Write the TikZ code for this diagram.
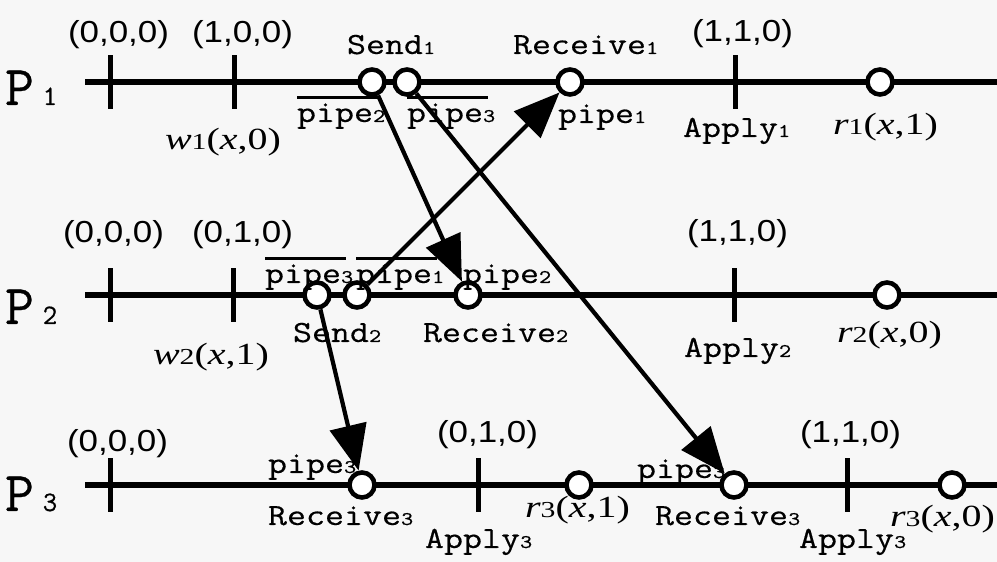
\documentclass[tikz,border=0pt]{standalone}
\usepackage{fontspec}
\usepackage{tikz}
\usetikzlibrary{arrows.meta,positioning}
\newfontfamily\monofont[FakeStretch=1.2,FakeBold=0.4]{Latin Modern Mono}
\newfontfamily\procfont[FakeBold=0.5]{Latin Modern Mono}
\newfontfamily\tuplefont[FakeStretch=1.15]{Liberation Sans}
\newfontfamily\valfont[FakeStretch=1.3]{Liberation Serif}
\newcommand{\ix}[1]{{\fontsize{11}{11}\selectfont #1}}
\newcommand{\vix}[1]{{\fontsize{13}{13}\selectfont\upshape #1}}
\newcommand{\pix}[1]{\hspace{5pt}{\fontsize{16}{16}\selectfont #1}}

\begin{document}
\begin{tikzpicture}[
    font=\monofont\fontsize{17.5}{19}\selectfont,
    lbl/.style={anchor=base west, inner sep=0pt, outer sep=0pt},
    tuple/.style={lbl, font=\tuplefont\fontsize{17.3}{18}\selectfont},
    val/.style={lbl, font=\valfont\fontsize{17.5}{20}\selectfont},
    proc/.style={lbl, font=\procfont\fontsize{32}{32}\selectfont},
    event/.style={circle, draw, line width=2.6pt, fill=white, minimum size=5mm, inner sep=0pt},
    tick/.style={fill=black, minimum width=1mm, minimum height=10.7mm, inner sep=0pt},
    timeline/.style={line width=3.2pt},
    bar/.style={line width=1.7pt},
    arrow/.style={-{Triangle[length=26pt,width=21pt]}, line width=2.4pt}
]
\useasboundingbox[fill=black!3] (0,0) rectangle (19.94,11.24);

% time lines
\coordinate (p1s) at (1.7,9.6);  \coordinate (p1e) at (19.94,9.6);
\coordinate (p2s) at (1.7,5.34); \coordinate (p2e) at (19.94,5.34);
\coordinate (p3s) at (1.7,1.54); \coordinate (p3e) at (19.94,1.54);
\draw[timeline] (p1s) -- (p1e);
\draw[timeline] (p2s) -- (p2e);
\draw[timeline] (p3s) -- (p3e);

\node[proc] (proc1) at (0.1,9.14) {P\pix{1}};
\node[proc] (proc2) at (0.1,4.76) {P\pix{2}};
\node[proc] (proc3) at (0.1,1.02) {P\pix{3}};

% ticks
\node[tick] (k1a) at (2.2,9.6) {};
\node[tick] (k1b) at (4.68,9.6) {};
\node[tick] (k1c) at (14.7,9.6) {};
\node[tick] (k2a) at (2.2,5.34) {};
\node[tick] (k2b) at (4.66,5.34) {};
\node[tick] (k2c) at (14.68,5.34) {};
\node[tick] (k3a) at (2.2,1.54) {};
\node[tick] (k3b) at (9.56,1.54) {};
\node[tick] (k3c) at (16.94,1.54) {};

% events
\node[event] (send1a) at (7.44,9.6) {};
\node[event] (send1b) at (8.14,9.6) {};
\node[event] (recv1) at (11.4,9.6) {};
\node[event] (read1) at (17.6,9.6) {};
\node[event] (send2a) at (6.34,5.34) {};
\node[event] (send2b) at (7.14,5.34) {};
\node[event] (recv2) at (9.36,5.34) {};
\node[event] (read2) at (17.74,5.34) {};
\node[event] (recv3a) at (7.24,1.54) {};
\node[event] (read3a) at (11.58,1.54) {};
\node[event] (recv3b) at (14.68,1.54) {};
\node[event] (read3b) at (19.04,1.54) {};

% messages
\draw[arrow] (send1a) -- (recv2);
\draw[arrow] (send1b) -- (recv3b);
\draw[arrow] (send2b) -- (recv1);
\draw[arrow] (send2a) -- (recv3a);

% P1 labels
\node[tuple] (vc1a) at (1.36,10.38) {(0,0,0)};
\node[tuple] (vc1b) at (3.84,10.38) {(1,0,0)};
\node[tuple] (vc1c) at (13.84,10.4) {(1,1,0)};
\node[lbl] (lsend1) at (6.94,10.16) {Send\ix{1}};
\node[lbl] (lrecv1) at (10.26,10.16) {Receive\ix{1}};
\node[lbl] (bar12) at (5.94,8.8) {pipe\ix{2}};
\node[lbl] (bar13) at (8.14,8.8) {pipe\ix{3}};
\node[lbl] (pipe1) at (11.16,8.78) {pipe\ix{1}};
\node[lbl] (apply1) at (13.66,8.5) {Apply\ix{1}};
\node[val] (write1) at (3.3,8.24) {\textit{w}\vix{1}(\textit{x},0)};
\node[val] (lread1) at (16.66,8.54) {\textit{r}\vix{1}(\textit{x},1)};

% P2 labels
\node[tuple] (vc2a) at (1.26,6.38) {(0,0,0)};
\node[tuple] (vc2b) at (3.84,6.38) {(0,1,0)};
\node[tuple] (vc2c) at (13.74,6.4) {(1,1,0)};
\node[lbl] (bar23) at (5.3,5.58) {pipe\ix{3}};
\node[lbl] (bar21) at (7.12,5.58) {pipe\ix{1}};
\node[lbl] (pipe2) at (9.26,5.58) {pipe\ix{2}};
\node[lbl] (lsend2) at (5.86,4.4) {Send\ix{2}};
\node[lbl] (lrecv2) at (8.46,4.4) {Receive\ix{2}};
\node[lbl] (apply2) at (13.68,4.1) {Apply\ix{2}};
\node[val] (write2) at (3.06,3.94) {\textit{w}\vix{2}(\textit{x},1)};
\node[val] (lread2) at (16.74,4.38) {\textit{r}\vix{2}(\textit{x},0)};

% P3 labels
\node[tuple] (vc3a) at (1.34,2.2) {(0,0,0)};
\node[tuple] (vc3b) at (8.74,2.38) {(0,1,0)};
\node[tuple] (vc3c) at (16.0,2.38) {(1,1,0)};
\node[lbl] (pipe3a) at (5.36,1.78) {pipe\ix{3}};
\node[lbl] (lrecv3a) at (5.36,0.74) {Receive\ix{3}};
\node[lbl] (apply3a) at (8.5,0.28) {Apply\ix{3}};
\node[val] (lread3a) at (10.5,0.88) {\textit{r}\vix{3}(\textit{x},1)};
\node[lbl] (pipe3b) at (12.74,1.68) {pipe\ix{3}};
\node[lbl] (lrecv3b) at (13.1,0.74) {Receive\ix{3}};
\node[lbl] (apply3b) at (15.98,0.28) {Apply\ix{3}};
\node[val] (lread3b) at (17.8,0.7) {\textit{r}\vix{3}(\textit{x},0)};

\foreach \b in {bar12,bar13,bar23,bar21}
  \draw[bar] ([yshift=3.5pt]\b.north west) -- ([xshift=-4pt,yshift=3.5pt]\b.north east);
\end{tikzpicture}
\end{document}
